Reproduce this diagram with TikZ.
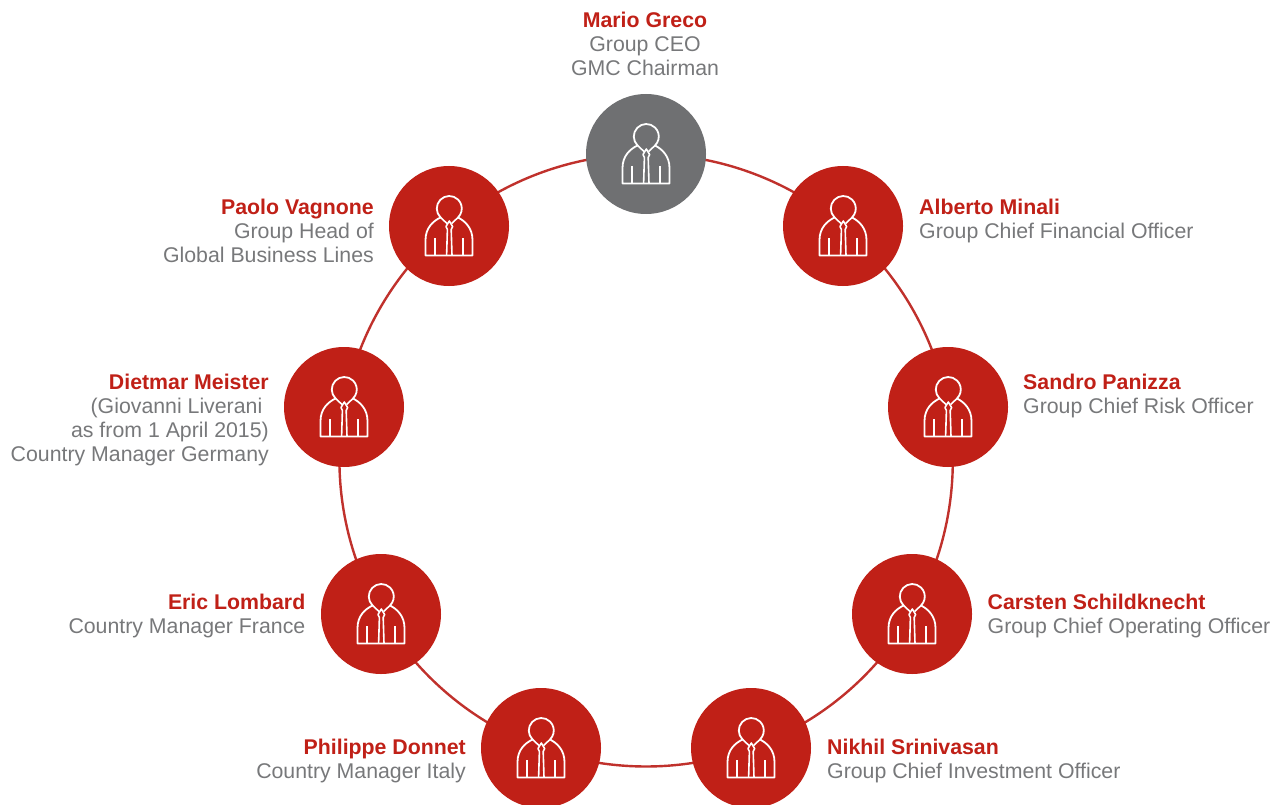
\documentclass[tikz,border=0pt]{standalone}
\usepackage{fontspec}
\setmainfont{Liberation Sans}
\usetikzlibrary{backgrounds}
\definecolor{zred}{HTML}{C02017}
\definecolor{zring}{HTML}{C0312C}
\definecolor{zgrey}{HTML}{6F7072}
\definecolor{ztext}{HTML}{77787A}
\tikzset{
  member/.style={circle,fill=zred,minimum size=120pt,inner sep=0pt},
  chair/.style={member,fill=zgrey},
  ringline/.style={zring,line width=2.4pt},
  nametext/.style={inner sep=0pt,text=ztext,font=\fontsize{21.3}{24}\selectfont},
  lefttext/.style={nametext,anchor=east,align=right},
  righttext/.style={nametext,anchor=west,align=left},
  pics/person/.style={code={
    \draw[white,line width=1.8pt,line join=round]
      (-8.4,-8.5) arc (134:406:12.5) .. controls (16,-5) and (23.5,2) .. (23.5,14)
      -- (23.5,29.5) -- (-23.5,29.5) -- (-23.5,14) .. controls (-23.5,2) and (-16,-5) .. cycle;
    \draw[white,line width=1.6pt,line join=round]
      (-2.4,29.5) -- (-1.6,3.5) -- (-3,0.5) -- (0.3,-5) -- (3.6,0.5) -- (2.2,3.5) -- (3,29.5);
    \draw[white,line width=1.6pt] (-8.4,-8.5) -- (-2,-2.5) (9,-8.5) -- (2.6,-2.5);
    \draw[white,line width=1.8pt] (-13.7,12) -- (-13.7,29.5) (14,12) -- (14,29.5);
  }}
}
\newcommand{\nm}[1]{\textcolor{zred}{\textbf{#1}}}
\begin{document}
\begin{tikzpicture}[x=1pt,y=-1pt]
  \useasboundingbox (0,0) rectangle (1287,805);
  \node[chair] (greco) at (646,154) {};
  \node[member] (minali) at (843,226) {};
  \node[member] (panizza) at (948,407) {};
  \node[member] (schildknecht) at (912,614) {};
  \node[member] (srinivasan) at (751,748) {};
  \node[member] (donnet) at (541,748) {};
  \node[member] (lombard) at (381,614) {};
  \node[member] (meister) at (344,407) {};
  \node[member] (vagnone) at (449,226) {};
  % ring behind the discs
  \begin{scope}[on background layer]
    \draw[ringline] (greco.center) to[bend left=20,looseness=.88] (minali.center);
    \draw[ringline] (minali.center) to[bend left=20,looseness=.88] (panizza.center);
    \draw[ringline] (panizza.center) to[bend left=20,looseness=.88] (schildknecht.center);
    \draw[ringline] (schildknecht.center) to[bend left=20,looseness=.88] (srinivasan.center);
    \draw[ringline] (srinivasan.center) to[bend left=20,looseness=.88] (donnet.center);
    \draw[ringline] (donnet.center) to[bend left=20,looseness=.88] (lombard.center);
    \draw[ringline] (lombard.center) to[bend left=20,looseness=.88] (meister.center);
    \draw[ringline] (meister.center) to[bend left=20,looseness=.88] (vagnone.center);
    \draw[ringline] (vagnone.center) to[bend left=20,looseness=.88] (greco.center);
  \end{scope}
  \pic at (greco) {person};
  \pic at (minali) {person};
  \pic at (panizza) {person};
  \pic at (schildknecht) {person};
  \pic at (srinivasan) {person};
  \pic at (donnet) {person};
  \pic at (lombard) {person};
  \pic at (meister) {person};
  \pic at (vagnone) {person};
  % texts
  \node[nametext,align=center] (grecotext) at (645,44) {\nm{Mario Greco}\\Group CEO\\GMC Chairman};
  \node[righttext] (minalitext) at (919,220.5) {\nm{Alberto Minali}\\Group Chief Financial Officer};
  \node[righttext] (panizzatext) at (1023,395.5) {\nm{Sandro Panizza}\\Group Chief Risk Officer};
  \node[righttext] (schildknechttext) at (987.5,615.5) {\nm{Carsten Schildknecht}\\Group Chief Operating Officer};
  \node[righttext] (srinivasantext) at (827,760.5) {\nm{Nikhil Srinivasan}\\Group Chief Investment Officer};
  \node[lefttext] (donnettext) at (466,760.5) {\nm{Philippe Donnet}\\Country Manager Italy};
  \node[lefttext] (lombardtext) at (305.5,615.5) {\nm{Eric Lombard}\\Country Manager France};
  \node[lefttext] (meistertext) at (269,420) {\nm{Dietmar Meister}\\(Giovanni Liverani\rule{6.5pt}{0pt}\\as from 1 April 2015)\\Country Manager Germany};
  \node[lefttext] (vagnonetext) at (374,231) {\nm{Paolo Vagnone}\\Group Head of\\Global Business Lines};
\end{tikzpicture}
\end{document}
